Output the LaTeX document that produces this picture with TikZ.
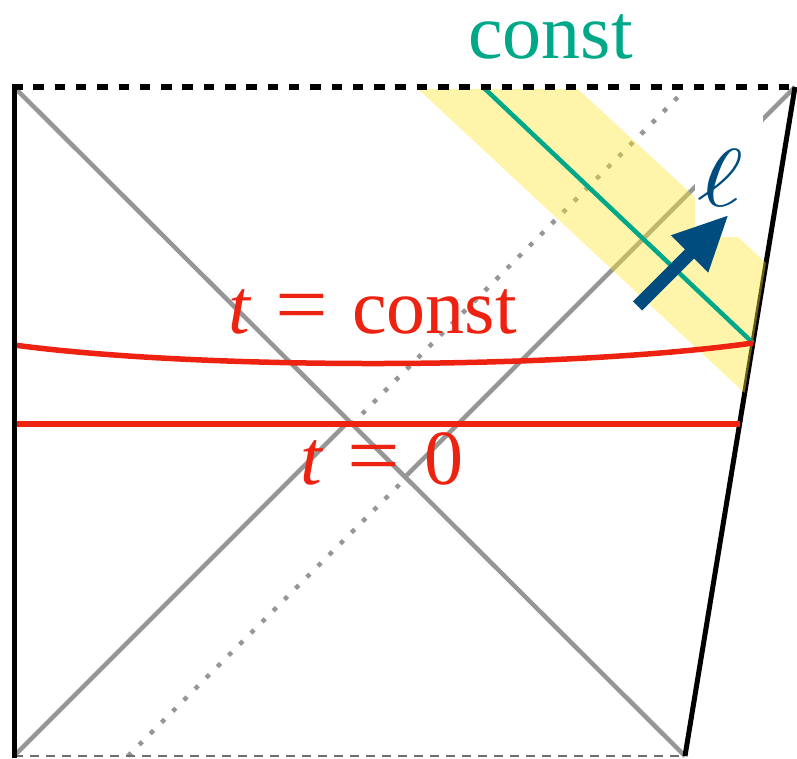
\documentclass[tikz,border=0pt]{standalone}
\usepackage{fontspec}
\setmainfont{Liberation Serif}
\usepackage{graphicx}
\definecolor{myteal}{RGB}{0,168,138}
\definecolor{myred}{RGB}{238,34,17}
\definecolor{myblue}{RGB}{0,76,127}
\definecolor{mygray}{RGB}{150,150,150}
\definecolor{myyellow}{RGB}{255,230,43}
\definecolor{dashgray}{RGB}{110,110,110}
\begin{document}
\begin{tikzpicture}[x=1pt,y=-1pt,
  frame/.style={line width=5pt,black},
  nullray/.style={line width=4.5pt,mygray},
  dotray/.style={line width=4.5pt,mygray,dash pattern=on 4.5pt off 11.3pt},
  redline/.style={line width=5.5pt,myred},
  lbl/.style={font=\fontsize{78}{80}\selectfont,inner sep=0pt,anchor=base west}]
\useasboundingbox (0,0) rectangle (797,758);
\coordinate (TL) at (14,87);
\coordinate (TR) at (795,87);
\coordinate (BL) at (14,756);
\coordinate (BR) at (685,756);
\coordinate (X) at (348,422);
\coordinate (S) at (404,478);
\coordinate (D1) at (405,479);
\coordinate (D2) at (351,425);
% null rays
\draw[nullray] (TL) -- (BR);
\draw[nullray] (BL) -- (X);
\draw[nullray] (S) -- (TR);
\draw[dotray] (128,756) -- (D1);
\draw[dotray] (D2) -- (683,92);
% bottom dashed
\draw[dashgray,line width=2.5pt,dash pattern=on 9pt off 7pt] (BL) -- (BR);
% right boundary
\draw[frame] (TR) -- (BR);
% yellow band
\fill[myyellow,fill opacity=0.4] (418,89) -- (578,89) -- (766,263) -- (744.6,393) -- cycle;
% white box behind label
\fill[white] (695,112) rectangle (763,237);
% teal line
\draw[myteal,line width=4.5pt] (483,87) -- (753,343);
% red lines
\draw[redline] (14,345) .. controls (200,370) and (560,370) .. (753,343);
\draw[redline] (14,424) -- (739.5,424);
% left boundary and top dashed
\draw[frame] (14,85) -- (14,758);
\draw[black,line width=5.5pt,dash pattern=on 10.5pt off 10.8pt] (12,87) -- (TR);
% arrow
\fill[myblue] (632.9,301.4) -- (684.9,249.4) -- (670.8,235.3) -- (727.7,215.8) -- (708.2,272.7) -- (694.1,258.6) -- (642.1,310.6) -- cycle;
% labels
\node[inner sep=0pt,text=myblue] (ell) at (720,178) {\scalebox{11}[8.2]{$\ell$}};
\node[lbl,text=myteal] (c1) at (468,58) {const};
\node[lbl,text=myred] (c2) at (228,333) {\textit{t}\hspace{24pt}\scalebox{1.2}[1.1]{=}\hspace{24pt}const};
\node[lbl,text=myred] (c3) at (300,484) {\textit{t}\hspace{24pt}\scalebox{1.2}[1.1]{=}\hspace{24pt}0};
\end{tikzpicture}
\end{document}
